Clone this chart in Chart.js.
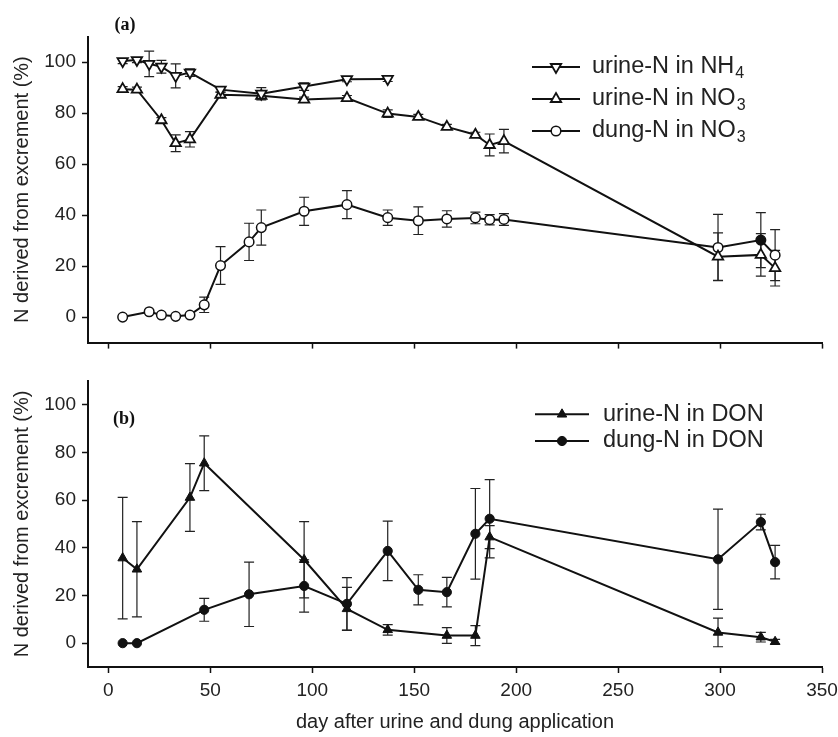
<!DOCTYPE html>
<html>
<head>
<meta charset="utf-8">
<title>N derived from excrement</title>
<script src="https://cdn.jsdelivr.net/npm/chart.js@4.4.1/dist/chart.umd.min.js"></script>
<style>
  body { margin: 0; background: #fff; }
  canvas { display: block; }
</style>
</head>
<body>
<canvas id="chartA" width="838" height="360"></canvas>
<canvas id="chartB" width="838" height="377"></canvas>
<script>
// Tick values shared by both panels
const xTicks = [0, 50, 100, 150, 200, 250, 300, 350];
const yTicks = [0, 20, 40, 60, 80, 100];

// Panel (a)
const nh4Days = [7, 14, 20, 26, 33, 40, 55, 75, 96, 117, 137];
const nh4Vals = [100.4, 100.8, 99.3, 98.2, 94.6, 95.9, 89.2, 87.6, 90.4, 93.3, 93.4];
const nh4Err  = [1, 1, 5, 2.5, 4.7, 1.5, 1, 2.4, 1.5, 1, 1];

const no3Days = [7, 14, 26, 33, 40, 55, 75, 96, 117, 137, 152, 166, 180, 187, 194, 299, 320, 327];
const no3Vals = [89.4, 89.2, 77.2, 68.2, 69.7, 87.2, 86.8, 85.3, 85.9, 79.8, 78.5, 74.6, 71.5, 67.5, 69, 23.7, 24.4, 19.2];
const no3Err  = [1, 1, 1, 3.3, 3, 1, 1, 1, 1, 1.5, 1, 1, 1, 4.3, 4.6, 9.3, 8.3, 7];

const dungNo3Days = [7, 20, 26, 33, 40, 47, 55, 69, 75, 96, 117, 137, 152, 166, 180, 187, 194, 299, 320, 327];
const dungNo3Vals = [0, 2.1, 0.8, 0.3, 0.8, 4.8, 20.2, 29.5, 35.1, 41.5, 44.1, 39.0, 37.8, 38.5, 38.9, 38.2, 38.3, 27.3, 30.2, 24.3];
const dungNo3Err  = [0, 0, 0, 0, 0, 3, 7.4, 7.3, 6.9, 5.5, 5.5, 3, 5.4, 3.2, 2.3, 2, 2.3, 13, 10.8, 10];

// Panel (b)
const urineDonDays = [7, 14, 40, 47, 96, 117, 137, 166, 180, 187, 299, 320, 327];
const urineDonVals = [35.7, 31, 61.1, 75.5, 35, 14.4, 5.6, 3.2, 3.2, 44.5, 4.5, 2.5, 0.6];
const urineDonErr  = [25.5, 20, 14.2, 11.5, 16, 9, 2.2, 3.3, 4.2, 4.8, 6, 2, 1];

const dungDonDays = [7, 14, 47, 69, 96, 117, 137, 152, 166, 180, 187, 299, 320, 327];
const dungDonVals = [0, 0, 14, 20.5, 24, 16.5, 38.7, 22.4, 21.4, 45.9, 52.2, 35.2, 50.8, 34];
const dungDonErr  = [0, 0, 4.8, 13.5, 11, 11, 12.5, 6.3, 6.2, 19, 16.4, 21, 3.3, 7];

const FONT = '"Liberation Sans", Arial, sans-serif';
const INK = '#111';

function pts(days, vals) {
  return days.map((d, i) => ({ x: d, y: vals[i] }));
}

// draw a marker the same way Chart.js does for circle / triangle
function drawMarker(ctx, style, x, y, r, rot, fill) {
  ctx.beginPath();
  if (style === 'circle') {
    ctx.arc(x, y, r, 0, Math.PI * 2);
  } else {
    let a = rot * Math.PI / 180;
    ctx.moveTo(x + Math.sin(a) * r, y - Math.cos(a) * r);
    a += 2 * Math.PI / 3;
    ctx.lineTo(x + Math.sin(a) * r, y - Math.cos(a) * r);
    a += 2 * Math.PI / 3;
    ctx.lineTo(x + Math.sin(a) * r, y - Math.cos(a) * r);
    ctx.closePath();
  }
  ctx.fillStyle = fill;
  ctx.fill();
  ctx.stroke();
}

// Error bars, drawn under the markers
const errorBars = {
  id: 'errorBars',
  beforeDatasetsDraw(chart) {
    const ctx = chart.ctx;
    const yScale = chart.scales.y;
    ctx.save();
    ctx.strokeStyle = '#222';
    ctx.lineWidth = 1.2;
    chart.data.datasets.forEach((ds, di) => {
      const meta = chart.getDatasetMeta(di);
      ds.data.forEach((p, i) => {
        const e = ds.errors[i];
        if (!e) return;
        const x = meta.data[i].x;
        const yTop = yScale.getPixelForValue(p.y + e);
        const yBot = yScale.getPixelForValue(p.y - e);
        ctx.beginPath();
        ctx.moveTo(x, yTop); ctx.lineTo(x, yBot);
        ctx.moveTo(x - 5, yTop); ctx.lineTo(x + 5, yTop);
        ctx.moveTo(x - 5, yBot); ctx.lineTo(x + 5, yBot);
        ctx.stroke();
      });
    });
    ctx.restore();
  }
};

// Legend with subscripts and panel letter
const panelDeco = {
  id: 'panelDeco',
  afterDraw(chart, args, opts) {
    const ctx = chart.ctx;
    ctx.save();
    ctx.font = 'bold 18px "Liberation Serif", "Times New Roman", serif';
    ctx.fillStyle = INK;
    ctx.textAlign = 'center';
    ctx.textBaseline = 'middle';
    ctx.fillText(opts.label, opts.labelX, opts.labelY);

    opts.items.forEach((it, i) => {
      const ds = chart.data.datasets[it.ds];
      const y = opts.top + i * opts.step;
      ctx.strokeStyle = INK;
      ctx.lineWidth = 2;
      ctx.beginPath();
      ctx.moveTo(opts.x1, y); ctx.lineTo(opts.x2, y);
      ctx.stroke();
      ctx.lineWidth = ds.pointBorderWidth;
      const fill = Array.isArray(ds.pointBackgroundColor) ? ds.pointBackgroundColor[0] : ds.pointBackgroundColor;
      drawMarker(ctx, ds.pointStyle, (opts.x1 + opts.x2) / 2, y, ds.pointRadius, ds.pointRotation || 0, fill);

      ctx.fillStyle = '#222';
      ctx.textAlign = 'left';
      ctx.textBaseline = 'middle';
      ctx.font = '23.5px ' + FONT;
      ctx.fillText(it.text, opts.textX, y);
      if (it.sub) {
        const w = ctx.measureText(it.text).width;
        ctx.font = '16px ' + FONT;
        ctx.fillText(it.sub, opts.textX + w + 1, y + 7);
      }
    });
    ctx.restore();
  }
};

function xAxis(showLabels) {
  return {
    type: 'linear',
    min: -10,
    max: 350,
    afterBuildTicks: s => { s.ticks = xTicks.map(v => ({ value: v })); },
    afterFit: s => {
      s.height = showLabels ? 70 : 15;
      // let the last tick label overhang the plot edge, like the original
      s.paddingLeft = 0;
      s.paddingRight = 0;
    },
    grid: { drawOnChartArea: false, tickLength: 6, tickColor: INK, tickWidth: 1.5 },
    border: { color: INK, width: 2 },
    ticks: { display: showLabels, color: '#222', font: { family: FONT, size: 19 }, padding: 6, maxRotation: 0 },
    title: {
      display: showLabels,
      text: 'day after urine and dung application',
      color: '#222',
      font: { family: FONT, size: 20 },
      padding: { top: 0, bottom: 3 }
    }
  };
}

function yAxis() {
  return {
    min: -10,
    max: 110,
    afterBuildTicks: s => { s.ticks = yTicks.map(v => ({ value: v })); },
    afterFit: s => { s.width = 88; },
    grid: { drawOnChartArea: false, tickLength: 6, tickColor: INK, tickWidth: 1.5 },
    border: { color: INK, width: 2 },
    ticks: { color: '#222', font: { family: FONT, size: 19 }, padding: 6 },
    title: {
      display: true,
      text: 'N derived from excrement (%)',
      color: '#222',
      font: { family: FONT, size: 20 },
      padding: { top: 10, bottom: 0 }
    }
  };
}

function series(days, vals, errs, style, extra) {
  return Object.assign({
    data: pts(days, vals),
    errors: errs,
    borderColor: INK,
    borderWidth: 2,
    pointStyle: style,
    pointBorderColor: INK,
    pointBorderWidth: 1.8,
    pointBackgroundColor: '#fff',
    pointRadius: style === 'circle' ? 4.8 : 6,
    pointHoverRadius: style === 'circle' ? 4.8 : 6,
    tension: 0
  }, extra || {});
}

new Chart(document.getElementById('chartA'), {
  type: 'line',
  data: {
    datasets: [
      series(nh4Days, nh4Vals, nh4Err, 'triangle', { pointRotation: 180 }),
      series(no3Days, no3Vals, no3Err, 'triangle'),
      series(dungNo3Days, dungNo3Vals, dungNo3Err, 'circle', {
        pointBorderWidth: 1.5,
        pointBackgroundColor: dungNo3Days.map(d => d === 320 ? INK : '#fff')
      })
    ]
  },
  options: {
    responsive: false,
    animation: false,
    layout: { padding: { top: 36.6, right: 16, bottom: 0, left: 0 } },
    scales: { x: xAxis(false), y: yAxis() },
    plugins: {
      legend: { display: false },
      tooltip: { enabled: false },
      panelDeco: {
        label: '(a)', labelX: 125, labelY: 25,
        x1: 532, x2: 580, textX: 592, top: 67, step: 32,
        items: [
          { ds: 0, text: 'urine-N in NH', sub: '4' },
          { ds: 1, text: 'urine-N in NO', sub: '3' },
          { ds: 2, text: 'dung-N in NO', sub: '3' }
        ]
      }
    }
  },
  plugins: [errorBars, panelDeco]
});

new Chart(document.getElementById('chartB'), {
  type: 'line',
  data: {
    datasets: [
      series(urineDonDays, urineDonVals, urineDonErr, 'triangle', { pointBackgroundColor: INK, pointBorderWidth: 1, pointRadius: 5.5 }),
      series(dungDonDays, dungDonVals, dungDonErr, 'circle', { pointBackgroundColor: INK, pointBorderWidth: 1, pointRadius: 4.6 })
    ]
  },
  options: {
    responsive: false,
    animation: false,
    layout: { padding: { top: 21, right: 16, bottom: 0, left: 0 } },
    scales: { x: xAxis(true), y: yAxis() },
    plugins: {
      legend: { display: false },
      tooltip: { enabled: false },
      panelDeco: {
        label: '(b)', labelX: 124, labelY: 59,
        x1: 535, x2: 589, textX: 603, top: 54.3, step: 26.7,
        items: [
          { ds: 0, text: 'urine-N in DON' },
          { ds: 1, text: 'dung-N in DON' }
        ]
      }
    }
  },
  plugins: [errorBars, panelDeco]
});
</script>
</body>
</html>
